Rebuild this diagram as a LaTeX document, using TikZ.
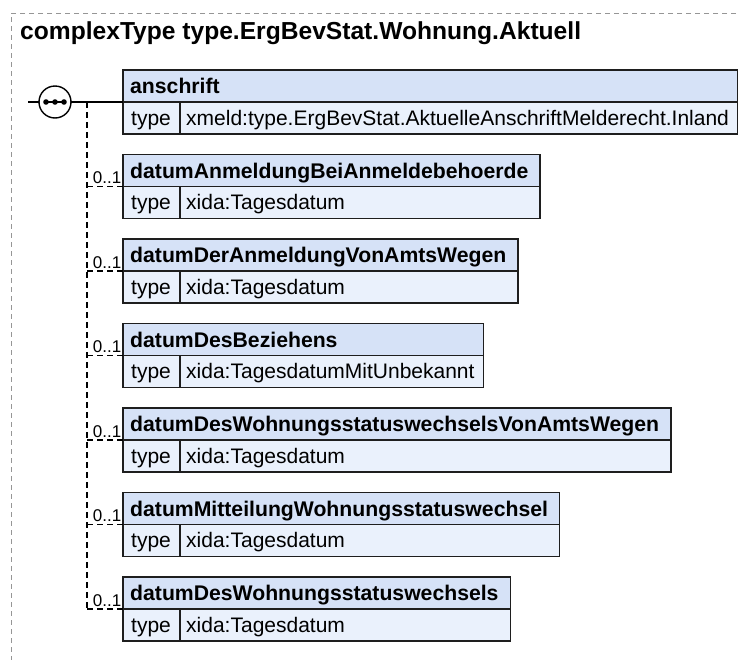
\documentclass[tikz,border=0pt]{standalone}
\usepackage{fontspec}
\setmainfont{Liberation Sans}
\definecolor{hdrblue}{RGB}{214,226,247}
\definecolor{valblue}{RGB}{234,241,252}
\definecolor{boxline}{RGB}{30,30,30}
\definecolor{framegray}{RGB}{150,150,150}
\newcommand\hdrfont{\fontsize{21.2}{25}\selectfont\bfseries}
\newcommand\valfont{\fontsize{21}{25}\selectfont}
\newcommand\occfont{\fontsize{17}{20}\selectfont}
\newcommand\ttlfont{\fontsize{24.6}{29}\selectfont\bfseries}
\newcommand\xmeasure[3]{%
  \setbox0\hbox{\hdrfont #2}%
  \setbox2\hbox{\valfont #3}%
  \pgfmathsetmacro\xtmp{max(\wd0+19,57+\wd2+15)}%
  \expandafter\xdef\csname xbw#1\endcsname{\xtmp}%
  \pgfmathsetmacro\xtmp{\xtmp-57}%
  \expandafter\xdef\csname xvw#1\endcsname{\xtmp}%
}
\newcommand\xelem[4]{%
  \node[hdr, minimum width=\csname xbw#1\endcsname pt, anchor=north west] (#1h) at (123,#2) {};
  \node[lbl, font=\hdrfont, anchor=base west] (#1n) at ([shift={(7pt,-23.5pt)}]#1h.north west) {#3};
  \node[val, minimum width=57pt, anchor=north west] (#1k) at (#1h.south west) {};
  \node[lbl, font=\valfont, anchor=base west] (#1kt) at ([shift={(8pt,-23pt)}]#1k.north west) {type};
  \node[val, minimum width=\csname xvw#1\endcsname pt, anchor=north west] (#1v) at (#1k.north east) {};
  \node[lbl, font=\valfont, anchor=base west] (#1vt) at ([shift={(6pt,-23pt)}]#1v.north west) {#4};
}
\begin{document}
\xmeasure{a1}{anschrift}{xmeld:type.ErgBevStat.AktuelleAnschriftMelderecht.Inland}%
\xmeasure{a2}{datumAnmeldungBeiAnmeldebehoerde}{xida:Tagesdatum}%
\xmeasure{a3}{datumDerAnmeldungVonAmtsWegen}{xida:Tagesdatum}%
\xmeasure{a4}{datumDesBeziehens}{xida:TagesdatumMitUnbekannt}%
\xmeasure{a5}{datumDesWohnungsstatuswechselsVonAmtsWegen}{xida:Tagesdatum}%
\xmeasure{a6}{datumMitteilungWohnungsstatuswechsel}{xida:Tagesdatum}%
\xmeasure{a7}{datumDesWohnungsstatuswechsels}{xida:Tagesdatum}%
\begin{tikzpicture}[x=1pt,y=-1pt,
  box/.style={rectangle, draw=boxline, line width=1.4pt, inner sep=0pt, outer sep=0pt, minimum height=32pt},
  hdr/.style={box, fill=hdrblue},
  val/.style={box, fill=valblue},
  lbl/.style={inner sep=0pt, text=black},
  conn/.style={line width=1.4pt, draw=black},
  optconn/.style={conn, dash pattern=on 6pt off 4pt},
  occ/.style={inner sep=0pt, font=\occfont, anchor=base east},
  frame/.style={draw=framegray, line width=1pt, dash pattern=on 5pt off 4pt}
]
\useasboundingbox (0,0) rectangle (739,659);
\coordinate (ftl) at (11,13);
\coordinate (ftr) at (745,13);
\coordinate (fbl) at (11,665);
\draw[frame] (ftr) -- (ftl) -- (fbl);
\node[lbl, font=\ttlfont, anchor=base west] (title) at (20,39) {complexType type.ErgBevStat.Wohnung.Aktuell};

\xelem{a1}{70}{anschrift}{xmeld:type.ErgBevStat.AktuelleAnschriftMelderecht.Inland}
\xelem{a2}{154.5}{datumAnmeldungBeiAnmeldebehoerde}{xida:Tagesdatum}
\xelem{a3}{239}{datumDerAnmeldungVonAmtsWegen}{xida:Tagesdatum}
\xelem{a4}{323.5}{datumDesBeziehens}{xida:TagesdatumMitUnbekannt}
\xelem{a5}{408}{datumDesWohnungsstatuswechselsVonAmtsWegen}{xida:Tagesdatum}
\xelem{a6}{492.5}{datumMitteilungWohnungsstatuswechsel}{xida:Tagesdatum}
\xelem{a7}{577}{datumDesWohnungsstatuswechsels}{xida:Tagesdatum}

\node[circle, draw=black, fill=white, line width=1.4pt, minimum size=32pt, inner sep=0pt, outer sep=0pt] (seq) at (55,102) {};
\coordinate (in) at (28,102);
\coordinate (jt) at (87,102);
\draw[conn] (in) -- (seq.west);
\draw[conn] (seq.east) -- (a1h.south west);
\draw[line width=1.4pt] ([xshift=-9pt]seq.center) -- ([xshift=9pt]seq.center);
\fill ([xshift=-9pt]seq.center) circle (2.8);
\fill (seq.center) circle (2.8);
\fill ([xshift=9pt]seq.center) circle (2.8);

\draw[optconn] (jt) -- (jt |- a7h.south west);
\foreach \e in {a2,a3,a4,a5,a6,a7}{
  \draw[optconn] (jt |- \e h.south west) -- (\e h.south west);
  \node[occ] (\e o) at ([shift={(-1.5pt,3pt)}]\e h.south west) {0..1};
}
\end{tikzpicture}
\end{document}
